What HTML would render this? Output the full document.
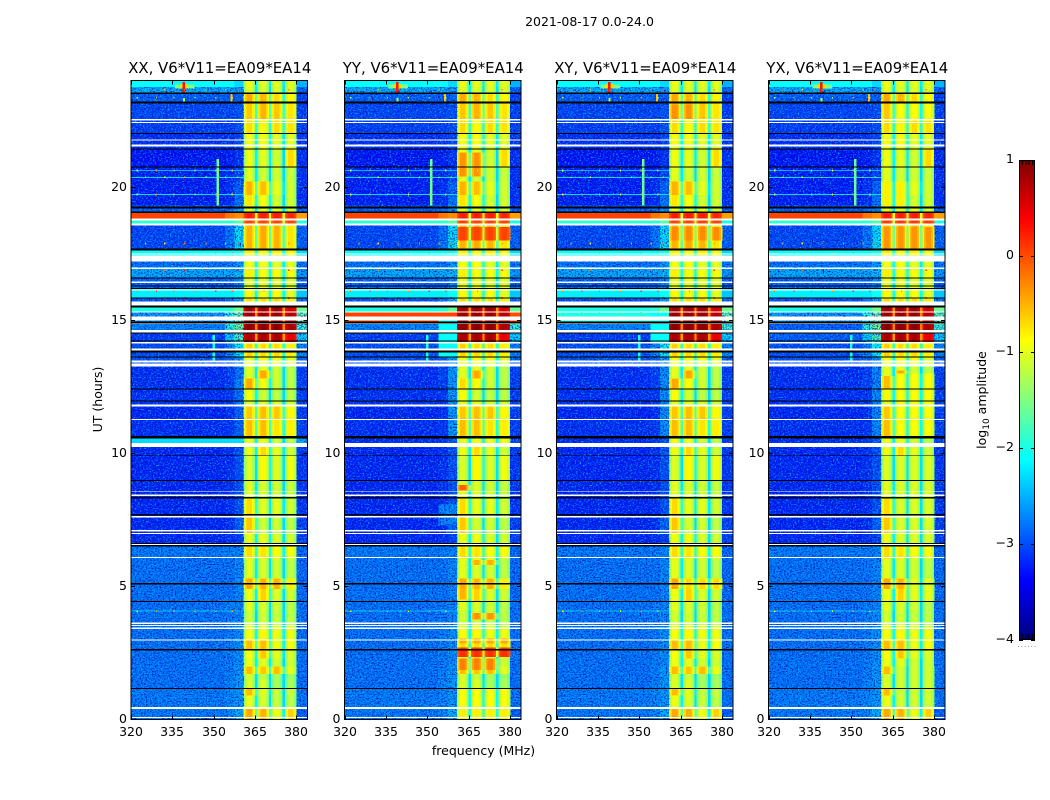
<!DOCTYPE html>
<html lang="en">
<head>
<meta charset="utf-8">
<title>2021-08-17 dynamic spectra</title>
<style>
html,body{margin:0;padding:0;background:#fff;}
svg{display:block;font-family:"DejaVu Sans","Liberation Sans",sans-serif;fill:#000;}
.tick{font-size:12.5px;}
.title{font-size:14.9px;text-anchor:middle;}
.cell{shape-rendering:crispEdges;}
.line{shape-rendering:crispEdges;stroke:#000;stroke-width:1;fill:none;}
</style>
</head>
<body>
<svg id="fig" width="1050" height="800" viewBox="0 0 1050 800" xmlns="http://www.w3.org/2000/svg">
<defs>
<filter id="noiseLight" x="0" y="0" width="100%" height="100%" color-interpolation-filters="sRGB">
<feTurbulence type="fractalNoise" baseFrequency="0.6 0.75" numOctaves="2" seed="3"/>
<feColorMatrix type="matrix" values="0 0 0 0 0  0 0 0 0 .75  0 0 0 0 1  3.4 0 0 0 -1.68"/>
</filter>
<filter id="noiseDark" x="0" y="0" width="100%" height="100%" color-interpolation-filters="sRGB">
<feTurbulence type="fractalNoise" baseFrequency="0.65 0.7" numOctaves="2" seed="11"/>
<feColorMatrix type="matrix" values="0 0 0 0 0  0 0 0 0 .08  0 0 0 0 .7  3.4 0 0 0 -1.6"/>
</filter>
</defs>
<text x="589.5" y="26" class="tick" text-anchor="middle">2021-08-17 0.0-24.0</text>
<text x="483.5" y="755" class="tick" text-anchor="middle">frequency (MHz)</text>
<text transform="translate(102,399.5) rotate(-90)" class="tick" text-anchor="middle">UT (hours)</text>
<text transform="translate(986,400) rotate(-90)" class="tick" text-anchor="middle">log<tspan font-size="9" dy="3">10</tspan><tspan dy="-3"> amplitude</tspan></text>
<g id="panels"></g>
<g id="cbar"></g>
</svg>
<script>
// ---- Panel labels and axis ticks
const panelTitles = ['XX, V6*V11=EA09*EA14', 'YY, V6*V11=EA09*EA14', 'XY, V6*V11=EA09*EA14', 'YX, V6*V11=EA09*EA14'];
const xTickLabels = [320, 335, 350, 365, 380];
const yTickLabels = [0, 5, 10, 15, 20];
const colorbarTicks = [1, 0, -1, -2, -3, -4];

// ---- Time rows (hour each row starts at) and log10 amplitude per spectral region
const rowStartHours = [0,.4,.9,1.15,1.5,1.7,2,2.3,2.6,3,3.4,3.65,4.1,4.45,4.9,5.3,6.05,6.5,7,7.6,8.3,9,9.9,10.25,10.6,11.25,11.8,12,12.4,12.8,13.1,13.26,13.6,14.15,14.5,14.9,15.29,15.55,15.85,16.2,16.6,17,17.43,17.69,18.55,18.82,19.02,19.3,19.7,20.2,20.75,21.4,22,22.55,23.13,23.5,23.75];
const leftLevels  = [-2.75,-2.75,-2.75,-2.8,-2.8,-2.8,-2.8,-2.8,-2.8,-2.8,-2.8,-2.8,-2.8,-2.8,-2.8,-2.8,-2.75,-3.25,-3.25,-3.25,-3.25,-3.25,-3.25,-3.2,-3.2,-3.25,-3.2,-3.2,-3.2,-3.2,-3.2,-3,-3,-3.1,-2.7,-2.6,-2,-3,-2.2,-2.9,-2.5,-2.8,-2.1,-3.05,-1.9,.05,-2.9,-3.3,-3.3,-3.3,-3.35,-3.2,-3.1,-3.05,-2.9,-2.5,-2.1];
const midLevels   = [-2.7,-2.7,-2.7,-2.7,-2.75,-2.75,-2.75,-2.75,-2.75,-2.75,-2.75,-2.75,-2.75,-2.8,-2.8,-2.8,-2.75,-3.2,-3.2,-3.2,-3.2,-3.2,-3.2,-3.15,-3.15,-3.2,-3.15,-3.15,-3.1,-3.1,-3.1,-2.9,-2.7,-2.3,-1.9,-2,-1.9,-2.8,-2.2,-2.9,-2.5,-2.8,-2.1,-2.8,-1.9,-.2,-2.85,-3.2,-3.2,-3.25,-3.3,-3.2,-3.1,-3.05,-2.95,-2.5,-2.1];
const rampLevels  = [-2.5,-2.6,-2.6,-2.6,-2.6,-2.6,-2.65,-2.65,-2.65,-2.65,-2.65,-2.7,-2.7,-2.7,-2.7,-2.7,-2.7,-3.1,-2.9,-3,-3,-3,-3,-2.95,-2.9,-2.9,-2.8,-2.8,-2.7,-2.8,-2.8,-2.6,-2.1,-1.7,-1.5,-1.5,-1.6,-2.5,-2.1,-2.7,-2.4,-2.6,-2,-2.2,-1.7,-.3,-2.6,-2.8,-2.9,-3.1,-3.2,-3.05,-3,-3,-2.9,-2.6,-2.3];
const band1Levels = [-.45,-.95,-.55,-1.05,-1.05,-.55,-.95,-.9,-.55,-.9,-1,-1.1,-1,-.95,-.45,-1,-.7,-.95,-.6,-.7,-1,-1.05,-.95,-.95,-.55,-.6,-1,-.9,-.45,-1,-1,-.9,-.65,.8,.95,.9,.85,-.7,-.85,-.95,-.8,-.9,-.8,-.5,.05,.25,-1,-.75,-.5,-1,-.95,-.9,-.7,-.6,-.45,-1,-.95];
const band2Levels = [-.5,-1.05,-1,-1.05,-1.15,-.6,-1,-.6,-.55,-.85,-1,-1.1,-1.05,-.65,-.5,-1.05,-.75,-.95,-1.1,-1,-1.05,-.85,-.7,-.95,-.55,-.55,-1,-1.1,-.9,-.45,-1,-.85,-.7,.8,.95,.9,.85,-.7,-.9,-.95,-.9,-.9,-.9,-.45,.05,.25,-1,-.9,-.55,-1.1,-1,-.9,-.85,-.5,-.5,-1.05,-1];
const band3Levels = [-.95,-1.15,-1.15,-1.3,-1.3,-.55,-1.1,-1,-.95,-.95,-1.05,-1.15,-1.1,-1.05,-.5,-1.1,-.9,-1.05,-1.1,-1,-1.1,-1.05,-1,-1.1,-.75,-.6,-1.05,-1.2,-1.1,-1.1,-1.1,-.9,-.7,.8,.95,.9,.85,-.7,-.9,-1,-.9,-1,-.8,-.5,.05,.25,-1,-1.1,-1,-1.1,-1.1,-1,-.7,-.6,-.7,-1.05,-1];
const band4Levels = [-.65,-1.2,-1.15,-1.3,-1.35,-1,-1.1,-1.05,-.9,-.95,-1.1,-1.2,-1.2,-1.1,-.8,-1.2,-.9,-1.1,-1.2,-1.1,-1.15,-.95,-1.1,-1.2,-.8,-.85,-1.1,-1.2,-1.2,-1.2,-1.2,-1,-.8,.5,.8,.75,.6,-.8,-1,-1,-.9,-1,-.9,-.75,.05,.2,-1.1,-1.1,-1.1,-1.15,-.7,-1,-.75,-.75,-.85,-1.05,-1];
const edgeLevels  = [-2.9,-2.8,-2.8,-2.8,-2.8,-2.8,-2.8,-2.8,-2.8,-2.8,-2.8,-2.8,-2.8,-2.85,-2.85,-2.85,-2.85,-3.1,-3.1,-3.15,-3.15,-3.15,-3.15,-3.1,-3.1,-3.1,-3.1,-3.1,-3.1,-3.1,-3.1,-2.9,-2.7,-2.3,-1.8,-1.6,-1.6,-2.8,-2.4,-2.9,-2.6,-2.8,-2.3,-2.9,-2,-.4,-2.9,-3.2,-3.2,-3.2,-3.2,-3.15,-3.1,-3.1,-3.1,-2.9,-2.5];

// ---- Per-polarisation differences from the table above
const patchPanels = [1,1,1,1,1,1,1,1,1,1,1,1,1,1,1,0,1,1,1,1,1,0,2,2,2,2,2,2,3,3,3,3,3,3,3,3,3,3,3,3];
const patchStarts = [14.95,14.95,15.0,2.35,2.85,1.85,4.5,3.75,5.8,20.4,18,8.6,10.6,7.3,13.6,10.25,10.25,2.7,0,.4,12.4,10.25,10.6,14.15,14.9,4.9,18,22.5,.4,4.45,19.3,10.6,12.4,22.55,17.69,18.55,14.15,14.5,10.6,6.5];
const patchEnds   = [15.29,15.29,15.1,2.75,3.05,2.3,4.9,4,6,21.3,18.5,8.8,13.2,8.1,15,10.6,10.6,2.85,.4,1.15,12.8,10.6,13.3,15.29,15.29,5.3,18.5,23.1,2,5.3,20.2,13,12.9,23.13,18.5,18.82,14.5,14.9,13.4,9.9];
const patchFirst  = [0,7,0,3,3,3,3,4,4,3,3,3,2,1,1,0,3,3,3,3,3,7,2,1,0,4,3,3,4,5,3,4,3,4,3,3,0,0,2,4];
const patchLast   = [2,7,1,6,6,5,3,5,5,4,6,3,2,2,2,2,6,6,6,6,3,7,2,2,0,6,6,4,6,6,4,6,3,6,6,6,0,0,2,6];
const patchValues = [.05,0,.3,.15,-.45,-.25,-.5,-.35,-.5,-.35,.05,-.1,-2.6,-2.7,-2.1,-2.3,-.95,-.7,-.8,-.9,-.7,-2.5,-2.65,-2.1,-2,-.7,-.3,-.35,-1.1,-1,-.8,-.9,-.55,-.9,-.35,.1,-2.9,-2.9,-2.7,-1.05];

// ---- Rows flagged in the data: blanked (white) and zeroed (black), as [top, bottom] hours
const blankTops    = [22.55,22.44,21.78,21.6,18.82,18.63,17.5,17.43,16.98,16.45,16.15,15.7,15.33,15.14,14.88,14.62,14.17,13.94,13.49,13.38,11.84,11.28,10.38,8.57,8.46,7.65,7.11,7,6.59,6.1,3.64,3.55,3.45,3,.47,.09];
const blankBottoms = [22.5,22.4,21.74,21.52,18.74,18.55,17.47,17.2,16.92,16.4,16.12,15.55,15.29,14.99,14.85,14.54,14.13,13.86,13.41,13.26,11.76,11.24,10.23,8.54,8.39,7.58,7.07,6.96,6.55,6.06,3.58,3.51,3.4,2.96,.39,.06];
const zeroTops     = [23.55,23.21,22.03,21.44,20.77,19.27,19.08,17.69,16.6,16.3,16.21,15.85,15.55,14.95,14.54,14.24,13.86,13.64,12.44,11.99,10.64,9.92,8.99,8.35,7.71,6.62,6.55,5.12,4.45,2.64,1.18];
const zeroBottoms  = [23.5,23.13,21.99,21.4,20.73,19.19,19.02,17.62,16.57,16.27,16.17,15.82,15.48,14.88,14.5,14.2,13.79,13.6,12.4,11.95,10.56,9.89,8.95,8.31,7.67,6.59,6.49,5.08,4.41,2.6,1.14];

// ---- Narrow-band interference: short vertical features and hot spots (widest first)
const rfiFreqs   = [339.5,339.2,339.2,351.4,350,356.5,339.2];
const rfiWidths  = [7,2.4,.9,.9,.9,.7,.7];
const rfiTops    = [23.85,23.86,23.95,21.05,14.45,23.52,23.35];
const rfiBottoms = [23.7,23.7,23.55,19.3,13.45,23.2,23.22];
const rfiLevels  = [-1.5,-.7,.3,-1.6,-2,-.6,-1.3];

// ---- Faint whole-band rows and single-channel spikes along them
const faintRowHours = [20.62,20.36,19.72,4.07];
const faintRowLevels = [-2.5,-2.3,-2.3,-2.4];
const spikeFreqs = [322,325,329,332,335.4,339.2,343,347,350.5,354,356.5,358.5,368,377];
const spikeHours = [20.62,20.36,19.72,17.88,17.5,16.87,16.08,15.83,15.3,15.65,4.07,23.65,23.35];
const spikeLevels = [-.9,-1,-.8,-.7,-.3,-.2,-.3,-.4,-.2,-.5,-.9,-.6,-1];

// ---- Axis limits
const freqMin = 320, freqMax = 384, hourMin = 0, hourMax = 24, cbarMin = -4, cbarMax = 1;
const panelLefts = [131, 344.5, 556.5, 768.5];
const panelWidth = 176.5, plotTop = 80.5, plotBottom = 719.5;
const cbarLeft = 1019, cbarRight = 1035, cbarTop = 160, cbarBottom = 640;

const NS = 'http://www.w3.org/2000/svg';
const regionLevels = [leftLevels, midLevels, rampLevels, band1Levels, band2Levels, band3Levels, band4Levels, edgeLevels];
const regionEdges = [[320,354],[354,357.5],[357.5,360.8]];
function xScale(p, f){ return panelLefts[p] + (f - freqMin) / (freqMax - freqMin) * panelWidth; }
function yScale(h){ return plotBottom - (h - hourMin) / (hourMax - hourMin) * (plotBottom - plotTop); }
function cScale(v){ return cbarBottom - (v - cbarMin) / (cbarMax - cbarMin) * (cbarBottom - cbarTop); }
function clamp01(v){ return Math.max(0, Math.min(1, v)); }
function jet(v){
  const t = clamp01((v - cbarMin) / (cbarMax - cbarMin));
  const r = clamp01(Math.min(4 * t - 1.5, -4 * t + 4.5));
  const g = clamp01(Math.min(4 * t - 0.5, -4 * t + 3.5));
  const b = clamp01(Math.min(4 * t + 0.5, -4 * t + 2.5));
  return 'rgb(' + Math.round(r * 255) + ',' + Math.round(g * 255) + ',' + Math.round(b * 255) + ')';
}
// frequency channels of the observing band: [start, end, region index, level offset, isGap]
const bandStarts = [360.8, 365.8, 370.8, 375.8];
const bandEnds = [365, 370, 375, 380.1];
const channels = [];
regionEdges.forEach(function(e, i){ channels.push([e[0], e[1], i, 0, false]); });
bandStarts.forEach(function(s, i){
  const e = bandEnds[i];
  channels.push([s, s + .5, 3 + i, -.45, false]);
  channels.push([s + .5, s + 1.1, 3 + i, -.2, false]);
  channels.push([s + 1.1, e - 1.1, 3 + i, 0, false]);
  channels.push([e - 1.1, e - .5, 3 + i, -.2, false]);
  channels.push([e - .5, e, 3 + i, -.45, false]);
  if (i < 3) channels.push([e, bandStarts[i + 1], 3 + i, -1.2, true]);
});
channels.push([380.1, 384, 7, 0, false]);

function channelLevel(level, ch){
  if (ch[4]) return Math.max(-2.3, level + ch[3]);
  if (ch[3] === 0) return level;
  return level > 0 ? level + ch[3] * .5 : level + ch[3];
}
function addRect(parent, x0, x1, y0, y1, fill){
  const r = document.createElementNS(NS, 'rect');
  r.setAttribute('x', x0.toFixed(2));
  r.setAttribute('y', y0.toFixed(2));
  r.setAttribute('width', Math.max(.8, x1 - x0).toFixed(2));
  r.setAttribute('height', Math.max(.8, y1 - y0).toFixed(2));
  r.setAttribute('fill', fill);
  parent.appendChild(r);
  return r;
}
function addLine(parent, x1, y1, x2, y2, cls){
  const l = document.createElementNS(NS, 'line');
  l.setAttribute('x1', x1); l.setAttribute('y1', y1);
  l.setAttribute('x2', x2); l.setAttribute('y2', y2);
  l.setAttribute('class', cls || 'line');
  parent.appendChild(l);
  return l;
}
function addText(parent, x, y, s, anchor, cls){
  const t = document.createElementNS(NS, 'text');
  t.setAttribute('x', x); t.setAttribute('y', y);
  t.setAttribute('text-anchor', anchor);
  t.setAttribute('class', cls);
  t.textContent = s;
  parent.appendChild(t);
  return t;
}
function drawRow(g, p, r){
  const start = rowStartHours[r];
  const end = r + 1 < rowStartHours.length ? rowStartHours[r + 1] : hourMax;
  channels.forEach(function(ch){
    const level = channelLevel(regionLevels[ch[2]][r], ch);
    const c = addRect(g, xScale(p, ch[0]), xScale(p, ch[1]), yScale(end), yScale(start), jet(level));
    c.setAttribute('class', 'cell');
    
    
  });
}
function drawPatches(g, p, belowNoise){
  patchPanels.forEach(function(pp, i){
    if (pp !== p) return;
    if ((patchValues[i] < -2.35) !== belowNoise) return;
    channels.forEach(function(ch){
      if (ch[2] < patchFirst[i] || ch[2] > patchLast[i]) return;
      const c = addRect(g, xScale(p, ch[0]), xScale(p, ch[1]), yScale(patchEnds[i]), yScale(patchStarts[i]), jet(channelLevel(patchValues[i], ch)));
      c.setAttribute('class', 'cell');
      
      
    });
  });
}
const panelsRoot = document.getElementById('panels');
panelTitles.forEach(function(title, p){
  const g = document.createElementNS(NS, 'g');
  
  
  panelsRoot.appendChild(g);
  // heatmap cells
  rowStartHours.forEach(function(start, r){
    drawRow(g, p, r);
  });
  drawPatches(g, p, true);
  // receiver-noise texture over the out-of-band region
  ['noiseLight', 'noiseDark'].forEach(function(id){
    [[320, 360.8], [380.1, 384]].forEach(function(span){
      const n = addRect(g, xScale(p, span[0]), xScale(p, span[1]), plotTop, plotBottom, '#000');
      n.setAttribute('filter', 'url(#' + id + ')');
      
      
    });
  });
  // rows bright enough to hide the receiver noise are redrawn on top
  rowStartHours.forEach(function(start, r){
    if (leftLevels[r] > -2.3) drawRow(g, p, r);
  });
  drawPatches(g, p, false);
  // faint whole-band rows
  faintRowHours.forEach(function(h, i){
    const c = addRect(g, xScale(p, 320), xScale(p, 360.8), yScale(h + .02), yScale(h - .02), jet(faintRowLevels[i]));
    c.setAttribute('class', 'cell');
    
    
  });
  // interference features
  rfiFreqs.forEach(function(f, i){
    const c = addRect(g, xScale(p, f - rfiWidths[i] / 2), xScale(p, f + rfiWidths[i] / 2), yScale(rfiTops[i]), yScale(rfiBottoms[i]), jet(rfiLevels[i]));
    c.setAttribute('class', 'cell');
    
    
  });
  spikeHours.forEach(function(h, i){
    spikeFreqs.forEach(function(f, k){
      if ((k + i) % 2) return;
      const c = addRect(g, xScale(p, f), xScale(p, f + .45), yScale(h + .03), yScale(h - .03), jet(spikeLevels[i] + (k % 3) * .25));
      c.setAttribute('class', 'cell');
      
      
    });
  });
  // flagged rows
  const x0 = xScale(p, freqMin), x1 = xScale(p, freqMax);
  blankTops.forEach(function(top, i){
    const c = addRect(g, x0, x1, yScale(top), yScale(blankBottoms[i]), '#fff');
    c.setAttribute('class', 'cell');
    
    
  });
  zeroTops.forEach(function(top, i){
    const c = addRect(g, x0, x1, yScale(top), yScale(zeroBottoms[i]), '#000');
    c.setAttribute('class', 'cell');
    
    
  });
  // frame
  const frame = addRect(g, x0, x1, plotTop, plotBottom, 'none');
  frame.setAttribute('class', 'line');
  
  
  // x ticks
  xTickLabels.forEach(function(v){
    const x = Math.round(xScale(p, v)) + .5;
    const a = addLine(g, x, plotBottom, x, plotBottom - 4);
    
    
    const b = addLine(g, x, plotTop, x, plotTop + 4);
    
    
    const t = addText(g, x - .5, 736, String(v), 'middle', 'tick');
    
    
  });
  // y ticks
  yTickLabels.forEach(function(v){
    const y = Math.round(yScale(v) - .5) + .5;
    const a = addLine(g, x0, y, x0 + 4, y);
    
    
    const b = addLine(g, x1, y, x1 - 4, y);
    
    
    const t = addText(g, x0 - 4, y + 3.7, String(v), 'end', 'tick');
    
    
  });
  // title
  const tt = addText(g, x0 + panelWidth / 2 + .5, 73, title, 'middle', 'title');
  
  
});

// ---- colorbar
const cbar = document.getElementById('cbar');
for (let y = cbarTop; y < cbarBottom; y += 2) {
  const v = cbarMax - (y + 1 - cbarTop) / (cbarBottom - cbarTop) * (cbarMax - cbarMin);
  const s = addRect(cbar, cbarLeft, cbarRight, y, y + 2, jet(v));
  s.setAttribute('class', 'cell');
  
  
}
const cbarFrame = addRect(cbar, cbarLeft + .5, cbarRight - .5, cbarTop + .5, cbarBottom - .5, 'none');
cbarFrame.setAttribute('class', 'line');


colorbarTicks.forEach(function(v){
  const y = Math.round(cScale(v)) + .5;
  const a = addLine(cbar, cbarLeft, y, cbarLeft + 4, y);
  
  
  const b = addLine(cbar, cbarRight, y, cbarRight - 4, y);
  
  
  const label = (v < 0 ? '\u2212' : '') + Math.abs(v);
  const t = addText(cbar, cbarLeft - 5, cScale(v) + 3, label, 'end', 'tick');
  
  
});
for (let k = 1; k <= 4; k++) {
  const x = cbarLeft + k * 3.2 + .5;
  const a = addLine(cbar, x, cbarTop, x, cbarTop + 5);
  
  
  const b = addLine(cbar, x, cbarBottom, x, cbarBottom - 6);
  
  
}
for (let k = 0; k < 6; k++) {
  const d = addRect(cbar, 1018 + k * 3.3, 1019 + k * 3.3, 646, 647, '#999');
  
  
}
</script>
</body>
</html>
